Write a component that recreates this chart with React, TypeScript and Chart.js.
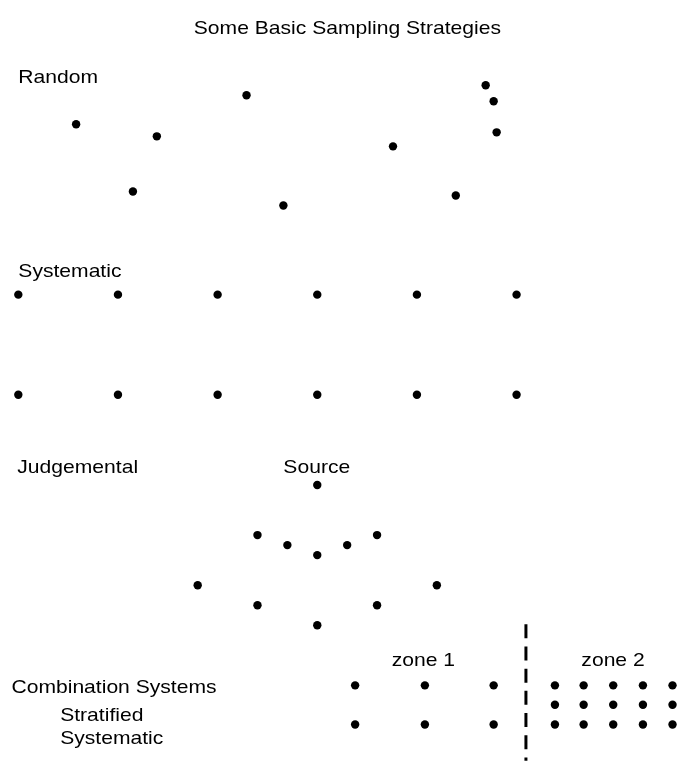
import React, { useEffect, useRef } from "react";
import { Chart, registerables } from "chart.js";

Chart.register(...registerables);

// ---- data (x in grid units, y in row units, y grows upward) ----
const randomX = [0.58, 1.39, 2.29, 1.15, 2.66, 3.76, 4.39, 4.69, 4.77, 4.8];
const randomY = [6.7, 6.58, 6.99, 6.03, 5.89, 6.48, 5.99, 7.09, 6.93, 6.62];

const systematicX = [0, 1, 2, 3, 4, 5];
const systematicRows = [5, 4];

const judgementalX = [3.0, 2.4, 2.7, 3.0, 3.3, 3.6, 1.8, 4.2, 2.4, 3.6, 3.0];
const judgementalY = [3.1, 2.6, 2.5, 2.4, 2.5, 2.6, 2.1, 2.1, 1.9, 1.9, 1.7];

const zone1X = [3.38, 4.08, 4.77];
const zone1Rows = [1.1, 0.71];

const zone2X = [5.385, 5.673, 5.97, 6.268, 6.565];
const zone2Rows = [1.1, 0.907, 0.71];

const dividerX = 5.094;
const dividerY = [1.71, 0.2];

// ---- text labels ----
const labelTexts = [
  "Some Basic Sampling Strategies",
  "Random",
  "Systematic",
  "Judgemental",
  "Source",
  "zone 1",
  "zone 2",
  "Combination Systems",
  "Stratified",
  "Systematic",
];
const labelX = [3.302, 0, 0, -0.01, 2.995, 4.065, 5.968, -0.069, 0.42, 0.42];
const labelY = [7.603, 7.117, 5.18, 3.22, 3.22, 1.292, 1.292, 1.019, 0.742, 0.515];
const labelAlign: CanvasTextAlign[] = [
  "center", "left", "left", "left", "center", "center", "center", "left", "left", "left",
];

const X_MIN = -0.1417;
const X_MAX = 6.618;
const Y_MIN = 0.347;
const Y_MAX = 7.899;

function grid(xs: number[], ys: number[]) {
  const out: { x: number; y: number }[] = [];
  ys.forEach((y) => xs.forEach((x) => out.push({ x, y })));
  return out;
}
function pairs(xs: number[], ys: number[]) {
  return xs.map((x, i) => ({ x, y: ys[i] }));
}

const labelPlugin = {
  id: "textLabels",
  afterDatasetsDraw(chart: any) {
    const ctx = chart.ctx as CanvasRenderingContext2D;
    const xs = chart.scales.x;
    const ys = chart.scales.y;
    ctx.save();
    ctx.fillStyle = "#000";
    ctx.font = "18.5px 'Liberation Sans', Arial, sans-serif";
    ctx.textBaseline = "alphabetic";
    labelTexts.forEach((t, i) => {
      const px = xs.getPixelForValue(labelX[i]);
      const py = ys.getPixelForValue(labelY[i]);
      ctx.save();
      ctx.translate(px, py);
      ctx.scale(1.14, 1);
      ctx.textAlign = labelAlign[i];
      ctx.fillText(t, 0, 0);
      ctx.restore();
    });
    ctx.restore();
  },
};

export default function App() {
  const ref = useRef<HTMLCanvasElement | null>(null);

  useEffect(() => {
    if (!ref.current) return;
    const dot = {
      type: "scatter" as const,
      pointRadius: 4.2,
      pointHoverRadius: 4.2,
      pointBackgroundColor: "#000",
      pointBorderWidth: 0,
      borderColor: "#000",
      backgroundColor: "#000",
      showLine: false,
    };
    const chart = new Chart(ref.current, {
      type: "scatter",
      data: {
        datasets: [
          { ...dot, label: "Random", data: pairs(randomX, randomY) },
          { ...dot, label: "Systematic", data: grid(systematicX, systematicRows) },
          { ...dot, label: "Judgemental", data: pairs(judgementalX, judgementalY) },
          { ...dot, label: "zone 1", data: grid(zone1X, zone1Rows) },
          { ...dot, label: "zone 2", data: grid(zone2X, zone2Rows) },
          {
            type: "line",
            label: "divider",
            data: dividerY.map((y) => ({ x: dividerX, y })),
            borderColor: "#000",
            borderWidth: 3,
            borderDash: [14, 8.2],
            pointRadius: 0,
            showLine: true,
            fill: false,
          } as any,
        ],
      },
      options: {
        responsive: false,
        animation: false,
        layout: { padding: 0 },
        plugins: {
          legend: { display: false },
          tooltip: { enabled: false },
          title: { display: false },
        },
        scales: {
          x: { type: "linear", display: false, min: X_MIN, max: X_MAX },
          y: { type: "linear", display: false, min: Y_MIN, max: Y_MAX },
        },
      },
      plugins: [labelPlugin],
    });
    return () => chart.destroy();
  }, []);

  return (
    <div style={{ position: "absolute", left: 0, top: 0, width: 682, height: 765, background: "#fff" }}>
      <canvas ref={ref} width={682} height={765} style={{ display: "block" }} />
    </div>
  );
}
